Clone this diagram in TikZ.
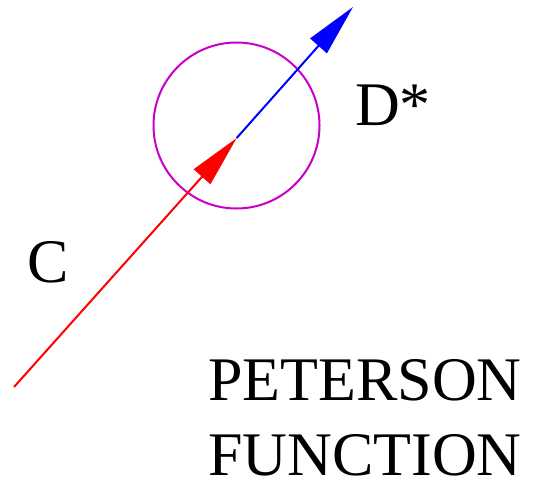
\documentclass[tikz,border=0pt]{standalone}
\usepackage{fontspec}
\setmainfont{Liberation Serif}
\usetikzlibrary{arrows.meta, positioning}
\definecolor{quarkred}{HTML}{FF0000}
\definecolor{mesonblue}{HTML}{0000FF}
\definecolor{fragmagenta}{HTML}{C800C8}

\begin{document}
\begin{tikzpicture}[x=1pt, y=-1pt,
    label text/.style={inner sep=0pt, font=\fontsize{62}{75}\selectfont},
    head/.style={-{Triangle[length=52pt, width=22pt]}, line width=2pt}]
    \useasboundingbox (0,0) rectangle (534,485);

    % Fragmentation vertex
    \draw[fragmagenta, line width=2pt] (236.5,125.5) circle[radius=83];

    % Quark in, meson out
    \coordinate (quark) at (14,387);
    \coordinate (vertex) at (236.7,138);
    \coordinate (meson) at (353,7);
    \draw[head, quarkred] (quark) -- (vertex);
    \draw[head, mesonblue] (vertex) -- (meson);

    % Labels
    \node[label text, anchor=base west] (dstar) at (355,125) {D*};
    \node[label text, anchor=base west] (charm) at (27,282) {C};
    \node[label text, anchor=base west] (peterson) at (208,400) {PETERSON};
    \node[label text, anchor=base west] (function) at (208,475) {FUNCTION};
\end{tikzpicture}
\end{document}
